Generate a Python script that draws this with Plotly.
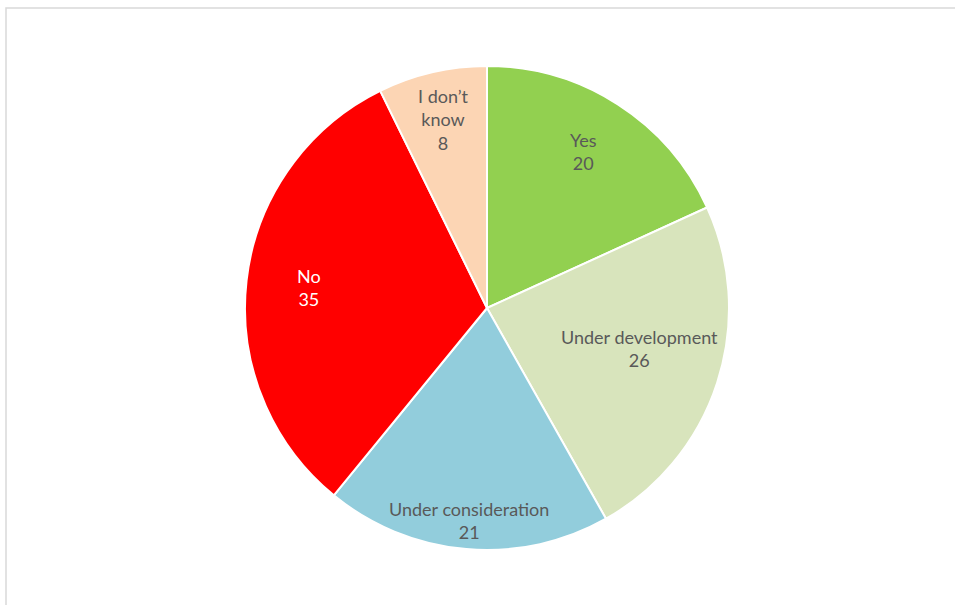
import math
import plotly.graph_objects as go

# Survey answers, in clockwise order from 12 o'clock
categories = ["Yes", "Under development", "Under consideration", "No", "I don’t know"]
display_labels = ["Yes", "Under development", "Under consideration", "No", "I don’t<br>know"]
counts = [20, 26, 21, 35, 8]
colors = ["#92D050", "#D8E4BC", "#92CDDC", "#FF0000", "#FCD5B4"]
text_colors = ["#595959", "#595959", "#595959", "#FFFFFF", "#595959"]

W, H = 955, 605
cx, cy, R = 487, 308, 242
# placement of each data label: fraction of the radius and angular nudge (degrees)
label_radius = [0.76, 0.65, 0.88, 0.74, 0.80]
label_nudge = [-1.0, -3.2, 0.0, 0.0, 0.0]
FONT = "Lato"

fig = go.Figure(
    go.Pie(
        labels=categories,
        values=counts,
        textinfo="none",
        sort=False,
        direction="clockwise",
        rotation=0,
        marker=dict(colors=colors, line=dict(color="white", width=2)),
        showlegend=False,
        hoverinfo="label+value",
        domain=dict(
            x=[(cx - R) / W, (cx + R) / W],
            y=[(H - cy - R) / H, (H - cy + R) / H],
        ),
    )
)

# Data labels placed near each slice's mid-angle
total = sum(counts)
cum = 0
for lab, val, tc, fr, nd in zip(display_labels, counts, text_colors, label_radius, label_nudge):
    mid = (cum + val / 2) / total * 2 * math.pi + math.radians(nd)
    cum += val
    r = fr * R
    fig.add_annotation(
        x=(cx + r * math.sin(mid)) / W,
        y=(H - cy + r * math.cos(mid)) / H,
        xref="paper", yref="paper",
        text=f"{lab}<br>{val}",
        showarrow=False,
        xanchor="center", yanchor="middle",
        font=dict(family=FONT, size=18, color=tc),
    )

# Light grey frame of the chart area
fig.add_shape(
    type="rect", xref="paper", yref="paper",
    x0=6 / W, x1=1.02, y0=-0.02, y1=(H - 8) / H,
    line=dict(color="#D9D9D9", width=1.5), fillcolor="rgba(0,0,0,0)", layer="below",
)

fig.update_layout(
    width=W, height=H,
    margin=dict(l=0, r=0, t=0, b=0),
    paper_bgcolor="white", plot_bgcolor="white",
)

fig.write_html("out.html")
